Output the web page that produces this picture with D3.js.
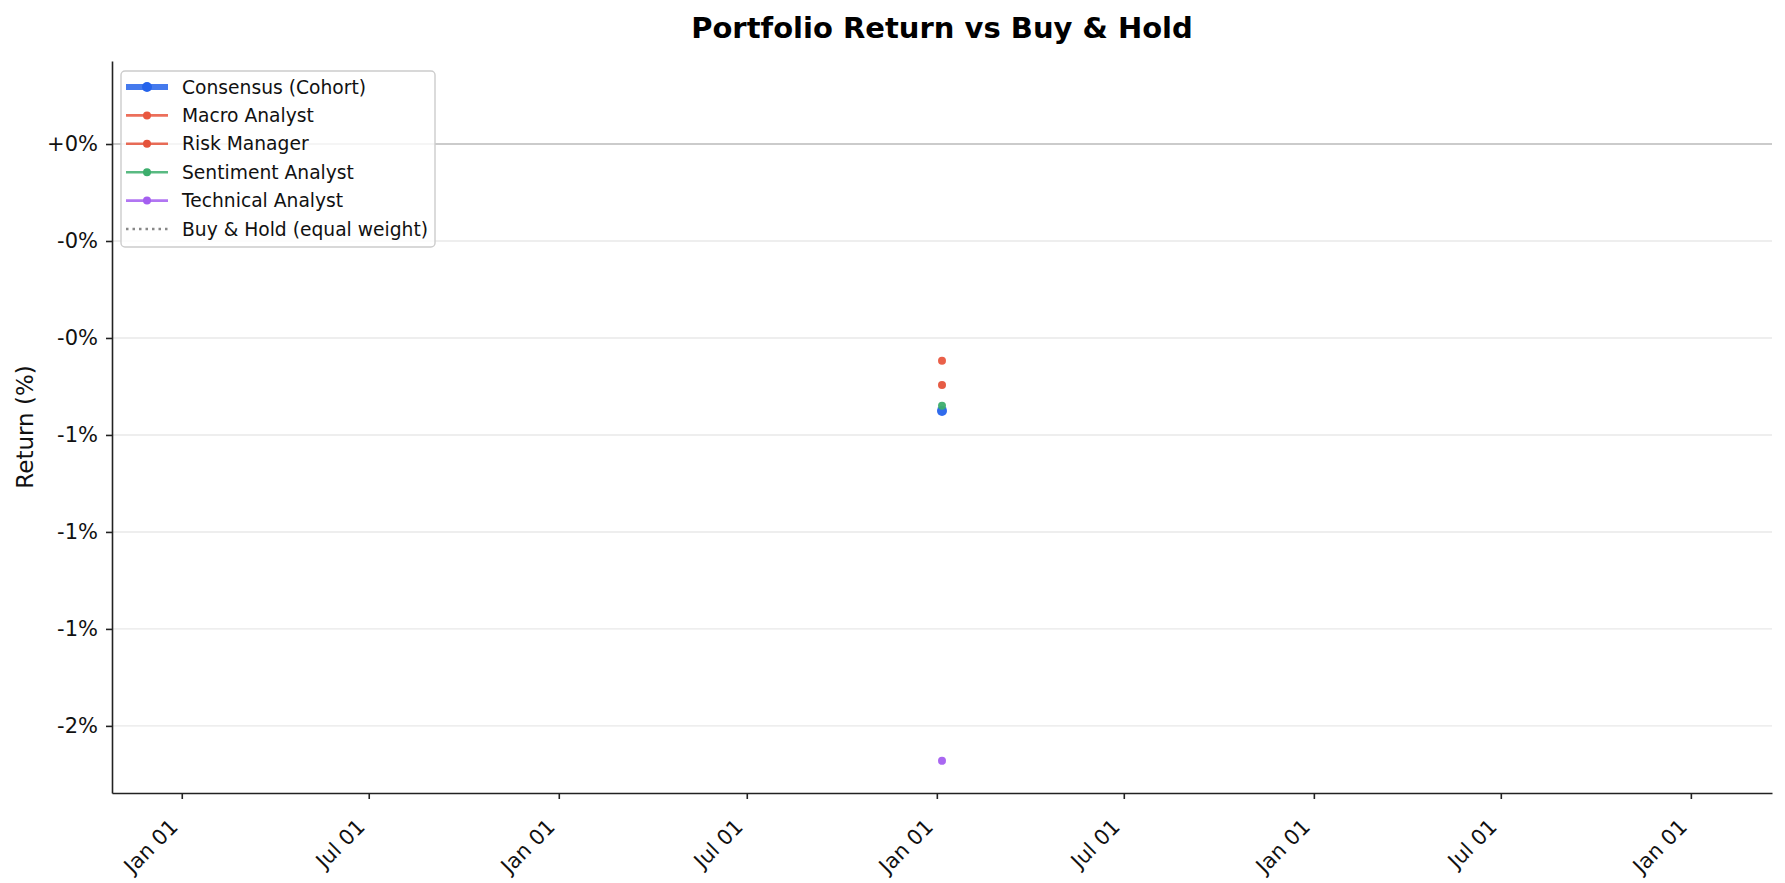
<!DOCTYPE html>
<html>
<head>
<meta charset="utf-8">
<script src="https://cdn.jsdelivr.net/npm/d3@7"></script>
<style>
  body { margin: 0; background: #fff; }
  svg { display: block; font-family: "DejaVu Sans", sans-serif; }
</style>
</head>
<body>
<div id="chart"></div>
<script>
// single observation date (only one rebalance so far)
var dates = ["2025-01-06"];

var consensusValues = [-0.688];
var macroValues = [-0.559];
var riskValues = [-0.621];
var sentimentValues = [-0.675];
var technicalValues = [-1.590];
var buyHoldValues = [null]; // single point, no marker -> nothing visible

var seriesNames = ["Consensus (Cohort)", "Macro Analyst", "Risk Manager",
    "Sentiment Analyst", "Technical Analyst", "Buy & Hold (equal weight)"];
var seriesColors = ["#2563eb", "#e9573f", "#e5533b", "#3dae6d", "#a45ff0", "#888888"];

var yTickValues = [0, -0.25, -0.5, -0.75, -1.0, -1.25, -1.5];
var yTickLabels = ["+0%", "-0%", "-0%", "-1%", "-1%", "-1%", "-2%"];
var yDomain = [-1.673, 0.214];

var width = 1785, height = 883;
var margin = {top: 61, right: 13, bottom: 90, left: 112};

var parse = d3.timeParse("%Y-%m-%d");
var dayMs = 86400000;

var series = [
    {name: seriesNames[1], values: macroValues, color: seriesColors[1], w: 2.6, r: 4},
    {name: seriesNames[2], values: riskValues, color: seriesColors[2], w: 2.6, r: 4},
    {name: seriesNames[3], values: sentimentValues, color: seriesColors[3], w: 2.6, r: 4},
    {name: seriesNames[4], values: technicalValues, color: seriesColors[4], w: 2.6, r: 4}
];
var consensus = {name: seriesNames[0], values: consensusValues, color: seriesColors[0], w: 6, r: 5};
var buyHold = {name: seriesNames[5], values: buyHoldValues, color: seriesColors[5], w: 2.6};

var svg = d3.select("#chart")
    .append("svg")
    .attr("width", width)
    .attr("height", height);

// matplotlib style: single date gets +-2 years, then 5% margin
var t0 = parse(dates[0]).getTime();
var pad = 365.25 * 2 * 1.1 * dayMs;
var xScale = d3.scaleTime()
    .domain([new Date(t0 - pad), new Date(t0 + pad)])
    .range([margin.left, width - margin.right]);

var yScale = d3.scaleLinear()
    .domain(yDomain)
    .range([height - margin.bottom, margin.top]);

// grid
svg.append("g")
    .selectAll("line")
    .data(yTickValues)
    .enter().append("line")
    .attr("x1", margin.left)
    .attr("x2", width - margin.right)
    .attr("y1", function(d) { return yScale(d); })
    .attr("y2", function(d) { return yScale(d); })
    .attr("stroke", "#e8e8e8")
    .attr("stroke-width", 1.4);

// zero line
svg.append("line")
    .attr("x1", margin.left)
    .attr("x2", width - margin.right)
    .attr("y1", yScale(0))
    .attr("y2", yScale(0))
    .attr("stroke", "#a8a8a8")
    .attr("stroke-width", 1.2);

var pts = function(s) {
    return s.values.map(function(v, i) { return {date: parse(dates[i]), value: v}; });
};

var line = d3.line()
    .defined(function(d) { return d.value != null; })
    .x(function(d) { return xScale(d.date); })
    .y(function(d) { return yScale(d.value); });

// buy & hold (dotted)
svg.append("path")
    .attr("d", line(pts(buyHold)))
    .attr("fill", "none")
    .attr("stroke", buyHold.color)
    .attr("stroke-width", buyHold.w)
    .attr("stroke-dasharray", "2.5,4");

[consensus].concat(series).forEach(function(s) {
    var g = svg.append("g");
    g.append("path")
        .attr("d", line(pts(s)))
        .attr("fill", "none")
        .attr("stroke", s.color)
        .attr("stroke-width", s.w)
        .attr("opacity", 0.85);
    g.selectAll("circle")
        .data(pts(s).filter(function(d) { return d.value != null; }))
        .enter().append("circle")
        .attr("cx", function(d) { return xScale(d.date); })
        .attr("cy", function(d) { return yScale(d.value); })
        .attr("r", s.r)
        .attr("fill", s.color)
        .attr("opacity", 0.95);
});

// axes
var yAxis = svg.append("g")
    .attr("transform", "translate(" + margin.left + ",0)")
    .call(d3.axisLeft(yScale)
        .tickValues(yTickValues)
        .tickFormat(function(d, i) { return yTickLabels[i]; })
        .tickSize(6)
        .tickSizeOuter(0)
        .tickPadding(8));
yAxis.select(".domain").attr("stroke", "#222").attr("stroke-width", 1.6);
yAxis.selectAll(".tick line").attr("stroke", "#222").attr("stroke-width", 1.6);
yAxis.selectAll(".tick text")
    .attr("font-size", 21)
    .attr("font-family", "DejaVu Sans")
    .attr("fill", "#111");

var xAxis = svg.append("g")
    .attr("transform", "translate(0," + (height - margin.bottom) + ")")
    .call(d3.axisBottom(xScale)
        .ticks(d3.timeMonth.every(6))
        .tickFormat(d3.timeFormat("%b %d"))
        .tickSize(6)
        .tickSizeOuter(0));
xAxis.select(".domain").attr("stroke", "#222").attr("stroke-width", 1.6);
xAxis.selectAll(".tick line").attr("stroke", "#222").attr("stroke-width", 1.6);
xAxis.selectAll(".tick text")
    .attr("font-size", 21)
    .attr("font-family", "DejaVu Sans")
    .attr("fill", "#111")
    .attr("text-anchor", "end")
    .attr("dy", null)
    .attr("y", null)
    .attr("transform", "translate(-3,35) rotate(-45)");

// y label
svg.append("text")
    .attr("transform", "translate(33," + ((margin.top + height - margin.bottom) / 2) + ") rotate(-90)")
    .attr("text-anchor", "middle")
    .attr("font-size", 23)
    .attr("fill", "#111")
    .text("Return (%)");

// title
svg.append("text")
    .attr("x", (margin.left + width - margin.right) / 2)
    .attr("y", 38)
    .attr("text-anchor", "middle")
    .attr("font-size", 29)
    .attr("font-weight", "bold")
    .attr("fill", "#000")
    .text("Portfolio Return vs Buy & Hold");

// legend
var legendItems = [consensus].concat(series).concat([buyHold]);
var lg = svg.append("g").attr("transform", "translate(121,71)");
lg.append("rect")
    .attr("width", 314)
    .attr("height", 176)
    .attr("rx", 4)
    .attr("fill", "#fff")
    .attr("fill-opacity", 0.8)
    .attr("stroke", "#cccccc")
    .attr("stroke-width", 1.4);
var rows = lg.selectAll("g.row")
    .data(legendItems)
    .enter().append("g")
    .attr("class", "row")
    .attr("transform", function(d, i) { return "translate(0," + (16 + i * 28.4) + ")"; });
rows.append("line")
    .attr("x1", 5).attr("x2", 47)
    .attr("stroke", function(d) { return d.color; })
    .attr("stroke-width", function(d) { return d.w; })
    .attr("opacity", function(d) { return d === buyHold ? 1 : 0.85; })
    .attr("stroke-dasharray", function(d) { return d === buyHold ? "2.5,4" : null; });
rows.filter(function(d) { return d.r; })
    .append("circle")
    .attr("cx", 26)
    .attr("r", function(d) { return d.r; })
    .attr("fill", function(d) { return d.color; });
rows.append("text")
    .attr("x", 61)
    .attr("dy", "0.35em")
    .attr("font-size", 18.7)
    .attr("fill", "#111")
    .text(function(d) { return d.name; });
</script>
</body>
</html>
